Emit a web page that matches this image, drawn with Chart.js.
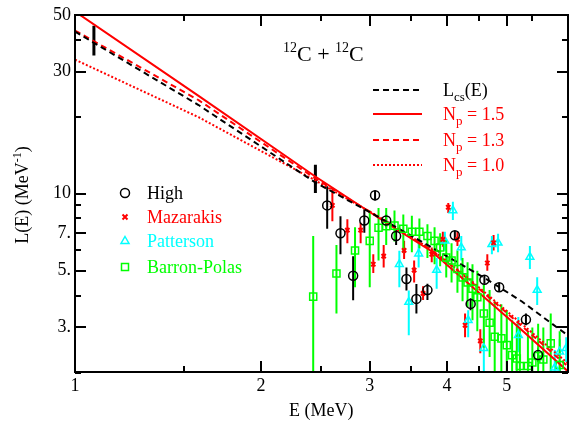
<!DOCTYPE html>
<html>
<head>
<meta charset="utf-8">
<script src="https://cdn.jsdelivr.net/npm/chart.js@4.4.0/dist/chart.umd.min.js"></script>
<style>
html, body { margin: 0; padding: 0; background: #fff; }
#wrap { width: 574px; height: 424px; }
</style>
</head>
<body>
<div id="wrap"><canvas id="lChart" width="574" height="424"></canvas></div>
<script>
// axis ticks
var xTicks = [1, 1.5, 2, 2.5, 3, 3.5, 4, 4.5, 5, 5.5];
var xLabels = {1: '1', 2: '2', 3: '3', 4: '4', 5: '5'};
var yTicks = [2, 3, 4, 5, 6, 7, 8, 9, 10, 20, 30, 40, 50];
var yLabels = {3: '3.', 5: '5.', 7: '7.', 10: '10', 30: '30', 50: '50'};

// model curves
var lcsE = [1.0, 1.585, 2.449, 3.0, 3.743, 4.62, 5.29, 6.27];
var lcsL = [43.0, 22.2, 11.06, 8.47, 6.25, 4.66, 3.79, 2.80];
var npE = [1.0, 1.585, 2.449, 3.194, 3.771, 4.21, 5.16, 6.27];
var np15L = [51.5, 24.1, 11.67, 7.68, 5.97, 4.74, 3.09, 2.03];
var np13L = [43.4, 23.2, 11.47, 7.74, 6.03, 4.91, 3.2, 2.12];
var np10L = [33.4, 19.9, 11.27, 7.8, 6.06, 4.95, 3.26, 2.18];

// error bars on the Lcs curve
var lcsErrE = [1.073, 2.45];
var lcsErrL = [39.6, 11.4];
var lcsErrLo = [34.7, 10.06];
var lcsErrHi = [45.3, 12.96];

// data sets
var highE = [2.56, 2.69, 2.82, 2.94, 3.06, 3.19, 3.31, 3.44, 3.57, 3.72, 4.12, 4.37, 4.60, 4.86, 5.37, 5.62];
var highL = [9.0, 7.0, 4.78, 7.86, 9.86, 7.86, 6.83, 4.64, 3.88, 4.2, 6.88, 3.71, 4.61, 4.31, 3.22, 2.34];
var highLo = [7.3, 5.8, 3.83, 7.04, 9.4, 7.4, 6.3, 4.18, 3.40, 3.84, 6.6, 3.5, 4.45, 4.15, 3.06, 2.2];
var highHi = [10.7, 8.17, 5.7, 8.7, 10.3, 8.3, 7.3, 5.15, 4.44, 4.45, 7.15, 3.9, 4.78, 4.48, 3.4, 2.5];

var mazE = [2.61, 2.76, 2.90, 3.04, 3.16, 3.41, 3.54, 3.66, 3.78, 3.94, 4.02, 4.16, 4.28, 4.53, 4.65, 4.76];
var mazL = [9.0, 7.2, 7.2, 5.3, 5.7, 6.0, 5.03, 4.08, 5.8, 6.63, 8.85, 6.63, 3.06, 2.66, 5.36, 6.43];
var mazLo = [7.8, 6.4, 6.4, 4.9, 5.15, 5.56, 4.5, 3.84, 5.4, 6.2, 8.4, 6.25, 2.75, 2.38, 5.0, 6.0];
var mazHi = [10.2, 7.95, 7.7, 5.8, 6.3, 6.54, 5.48, 4.35, 6.16, 7.1, 9.2, 7.1, 3.4, 2.95, 5.8, 6.9];

var patE = [3.35, 3.47, 3.60, 3.85, 3.97, 4.09, 4.22, 4.33, 4.59, 4.73, 4.84, 5.22, 5.45, 5.60, 5.98, 6.09, 6.24];
var patL = [5.3, 3.77, 5.83, 5.03, 6.54, 8.6, 6.16, 3.2, 2.49, 6.34, 6.43, 2.8, 5.66, 4.2, 2.09, 2.41, 2.49];
var patLo = [4.31, 2.8, 5.15, 4.25, 5.98, 7.9, 5.48, 2.75, 2.0, 5.8, 5.9, 2.4, 5.08, 3.67, 2.0, 2.0, 2.2];
var patHi = [5.98, 4.18, 6.6, 5.6, 7.1, 9.3, 6.83, 3.5, 2.95, 6.83, 6.97, 3.3, 6.25, 4.71, 2.45, 2.7, 2.75];

var bpE = [2.43, 2.65, 2.84, 3.00, 3.10, 3.19, 3.29, 3.40, 3.51, 3.61, 3.72, 3.82, 3.90, 3.99, 4.07, 4.16, 4.24,
           4.32, 4.40, 4.48, 4.59, 4.69, 4.78, 4.90, 5.00, 5.10, 5.19, 5.25, 5.41, 5.50, 5.62, 5.73, 5.89, 6.09];
var bpL = [3.96, 4.88, 6.0, 6.54, 7.36, 7.47, 7.5, 7.29, 7.1, 7.1, 6.83, 6.54, 6.16, 5.63, 5.48, 5.08, 4.71,
           4.5, 4.25, 3.94, 3.4, 3.13, 2.76, 2.72, 2.56, 2.34, 2.27, 2.12, 2.12, 2.19, 2.32, 2.25, 2.6, 2.14];
var bpLo = [2.0, 3.4, 4.31, 4.31, 5.48, 6.3, 6.5, 5.9, 5.9, 6.1, 5.6, 5.3, 5.2, 4.7, 4.5, 4.1, 3.8,
            3.6, 3.2, 2.9, 2.5, 2.3, 2.0, 2.0, 2.0, 2.0, 2.0, 2.0, 2.0, 2.0, 2.0, 2.0, 2.0, 2.0];
var bpHi = [6.83, 6.3, 7.4, 8.6, 8.8, 8.8, 8.6, 8.3, 8.2, 8.0, 7.6, 7.4, 7.0, 6.6, 6.4, 6.0, 5.6,
            5.4, 5.3, 5.0, 4.4, 4.2, 3.8, 3.7, 3.5, 3.2, 3.1, 3.0, 2.9, 3.0, 3.1, 3.0, 3.4, 2.9];

var SERIF = "'Liberation Serif', 'Times New Roman', serif";
var RED = '#ff0000', CYAN = '#00ffff', GREEN = '#00ff00';

function pts(xs, ys) {
    return xs.map(function(x, i) { return {x: x, y: ys[i]}; });
}

// draw a string made of pieces, some of them sub/superscripts
function drawPieces(ctx, pieces, x, y) {
    pieces.forEach(function(p) {
        ctx.font = (p.size || 18) + 'px ' + SERIF;
        ctx.fillText(p.t, x, y + (p.dy || 0));
        x += ctx.measureText(p.t).width;
    });
    return x;
}
function piecesWidth(ctx, pieces) {
    var w = 0;
    pieces.forEach(function(p) {
        ctx.font = (p.size || 18) + 'px ' + SERIF;
        w += ctx.measureText(p.t).width;
    });
    return w;
}

function legendMarker(ctx, style, x, y, color) {
    ctx.save();
    ctx.strokeStyle = color;
    ctx.lineWidth = style == 'cross' ? 2 : 1.5;
    ctx.beginPath();
    if (style == 'circle') {
        ctx.arc(x, y, 4.5, 0, Math.PI * 2);
    } else if (style == 'cross') {
        ctx.moveTo(x - 2.5, y - 2.5); ctx.lineTo(x + 2.5, y + 2.5);
        ctx.moveTo(x + 2.5, y - 2.5); ctx.lineTo(x - 2.5, y + 2.5);
    } else if (style == 'triangle') {
        ctx.moveTo(x, y - 4.5); ctx.lineTo(x + 4, y + 2.5); ctx.lineTo(x - 4, y + 2.5); ctx.closePath();
    } else {
        ctx.rect(x - 3.5, y - 3.5, 7, 7);
    }
    ctx.stroke();
    ctx.restore();
}

// frame and inward ticks, as thin filled rects
function drawFrame(chart) {
    var ctx = chart.ctx, xs = chart.scales.x, ys = chart.scales.y, a = chart.chartArea;
    var L = Math.round(a.left), T = Math.round(a.top), R = Math.round(a.right), B = Math.round(a.bottom);
    ctx.save();
    ctx.fillStyle = '#000';
    ctx.fillRect(L - 1, T - 1, R - L + 2, 2);
    ctx.fillRect(L - 1, B - 1, R - L + 2, 2);
    ctx.fillRect(L - 1, T - 1, 2, B - T + 2);
    ctx.fillRect(R - 1, T - 1, 2, B - T + 2);
    xTicks.forEach(function(v) {
        var px = Math.round(xs.getPixelForValue(v)), len = xLabels[v] ? 11 : 6;
        ctx.fillRect(px - 1, B - len, 2, len);
        ctx.fillRect(px - 1, T, 2, len);
    });
    yTicks.forEach(function(v) {
        var py = Math.round(ys.getPixelForValue(v)), len = yLabels[v] ? 11 : 6;
        ctx.fillRect(L, py - 1, len, 2);
        ctx.fillRect(R - len, py - 1, len, 2);
    });
    ctx.restore();
}

var extras = {
    id: 'extras',
    beforeDatasetsDraw: function(chart) {
        var ctx = chart.ctx, xs = chart.scales.x, ys = chart.scales.y, a = chart.chartArea;
        ctx.save();
        ctx.beginPath();
        ctx.rect(a.left, a.top, a.right - a.left, a.bottom - a.top);
        ctx.clip();
        chart.data.datasets.forEach(function(ds) {
            if (!ds.errLo) return;
            ctx.strokeStyle = ds.borderColor;
            ctx.lineWidth = ds.errWidth || 2;
            ds.data.forEach(function(p, i) {
                var px = xs.getPixelForValue(p.x);
                ctx.beginPath();
                ctx.moveTo(px, ys.getPixelForValue(ds.errLo[i]));
                ctx.lineTo(px, ys.getPixelForValue(ds.errHi[i]));
                ctx.stroke();
            });
        });
        ctx.restore();
    },
    afterDraw: function(chart) {
        var ctx = chart.ctx;
        drawFrame(chart);
        ctx.save();
        ctx.fillStyle = '#000';
        ctx.textBaseline = 'alphabetic';
        ctx.textAlign = 'left';

        // y axis title
        var yt = [{t: 'L(E) (MeV'}, {t: '-1', size: 12, dy: -7}, {t: ')'}];
        ctx.save();
        ctx.translate(28, 195);
        ctx.rotate(-Math.PI / 2);
        drawPieces(ctx, yt, -piecesWidth(ctx, yt) / 2, 0);
        ctx.restore();

        // plot title
        var tt = [{t: '12', size: 14, dy: -9}, {t: 'C + ', size: 22}, {t: '12', size: 14, dy: -9}, {t: 'C', size: 22}];
        drawPieces(ctx, tt, 283, 61);

        // curve legend
        var rows = [
            {y: 90, color: '#000', dash: [6, 4], text: [{t: 'L'}, {t: 'cs', size: 13, dy: 5}, {t: '(E)'}]},
            {y: 114, color: RED, dash: [], text: [{t: 'N'}, {t: 'p', size: 13, dy: 5}, {t: ' = 1.5'}]},
            {y: 140, color: RED, dash: [6, 4], text: [{t: 'N'}, {t: 'p', size: 13, dy: 5}, {t: ' = 1.3'}]},
            {y: 165, color: RED, dash: [2, 2], text: [{t: 'N'}, {t: 'p', size: 13, dy: 5}, {t: ' = 1.0'}]}
        ];
        rows.forEach(function(r) {
            ctx.strokeStyle = r.color;
            ctx.lineWidth = 2;
            ctx.setLineDash(r.dash);
            ctx.beginPath();
            ctx.moveTo(373, r.y); ctx.lineTo(422, r.y);
            ctx.stroke();
            ctx.setLineDash([]);
            ctx.fillStyle = r.color;
            drawPieces(ctx, r.text, 443, r.y + 6);
        });

        // data legend
        var items = [
            {y: 193, style: 'circle', color: '#000', text: 'High'},
            {y: 217, style: 'cross', color: RED, text: 'Mazarakis'},
            {y: 241, style: 'triangle', color: CYAN, text: 'Patterson'},
            {y: 267, style: 'rect', color: GREEN, text: 'Barron-Polas'}
        ];
        items.forEach(function(it) {
            legendMarker(ctx, it.style, 125, it.y, it.color);
            ctx.fillStyle = it.color;
            ctx.font = '18px ' + SERIF;
            ctx.fillText(it.text, 147, it.y + 6);
        });
        ctx.restore();
    }
};

function lineSet(xs, ys, color, dash) {
    return {
        data: pts(xs, ys), showLine: true, borderColor: color, borderWidth: 2,
        borderDash: dash, pointRadius: 0, fill: false
    };
}

var ctx = document.getElementById('lChart').getContext('2d');
var lChart = new Chart(ctx, {
    type: 'scatter',
    data: {
        datasets: [
            {label: 'Lcs error', data: pts(lcsErrE, lcsErrL), errLo: lcsErrLo, errHi: lcsErrHi, errWidth: 3,
             borderColor: '#000', pointRadius: 0},
            {label: 'High', data: pts(highE, highL), errLo: highLo, errHi: highHi, errWidth: 2,
             borderColor: '#000', backgroundColor: 'rgba(0,0,0,0)', pointStyle: 'circle', pointRadius: 4.5, borderWidth: 1.5},
            {label: 'Mazarakis', data: pts(mazE, mazL), errLo: mazLo, errHi: mazHi, errWidth: 2,
             borderColor: RED, backgroundColor: 'rgba(0,0,0,0)', pointStyle: 'crossRot', pointRadius: 3, borderWidth: 2},
            {label: 'Patterson', data: pts(patE, patL), errLo: patLo, errHi: patHi, errWidth: 2,
             borderColor: CYAN, backgroundColor: 'rgba(0,0,0,0)', pointStyle: 'triangle', pointRadius: 4.5, borderWidth: 1.5},
            {label: 'Barron-Polas', data: pts(bpE, bpL), errLo: bpLo, errHi: bpHi, errWidth: 2,
             borderColor: GREEN, backgroundColor: 'rgba(0,0,0,0)', pointStyle: 'rect', pointRadius: 5, borderWidth: 1.5},
            lineSet(lcsE, lcsL, '#000', [6, 4]),
            lineSet(npE, np15L, RED, []),
            lineSet(npE, np13L, RED, [6, 4]),
            lineSet(npE, np10L, RED, [2, 2])
        ]
    },
    options: {
        responsive: false,
        animation: false,
        layout: {padding: {top: 12, right: 1, left: 0, bottom: 0}},
        plugins: {legend: {display: false}, tooltip: {enabled: false}},
        scales: {
            x: {
                type: 'logarithmic', min: 1, max: 6.27,
                grid: {display: false, drawTicks: false}, border: {display: false},
                afterBuildTicks: function(s) { s.ticks = xTicks.map(function(v) { return {value: v}; }); },
                afterFit: function(s) { s.height = 52; },
                ticks: {
                    autoSkip: false, maxRotation: 0, padding: 3, color: '#000',
                    font: {family: SERIF, size: 18},
                    callback: function(v) { return xLabels[v] || ''; }
                },
                title: {display: true, text: 'E (MeV)', color: '#000', font: {family: SERIF, size: 18}, padding: {top: 0, bottom: 2}}
            },
            y: {
                type: 'logarithmic', min: 2.01, max: 50,
                grid: {display: false, drawTicks: false}, border: {display: false},
                afterBuildTicks: function(s) { s.ticks = yTicks.map(function(v) { return {value: v}; }); },
                afterFit: function(s) { s.width = 75; },
                ticks: {
                    autoSkip: false, padding: 4, color: '#000',
                    font: {family: SERIF, size: 18},
                    callback: function(v) { return yLabels[v] || ''; }
                }
            }
        }
    },
    plugins: [extras]
});
</script>
</body>
</html>
